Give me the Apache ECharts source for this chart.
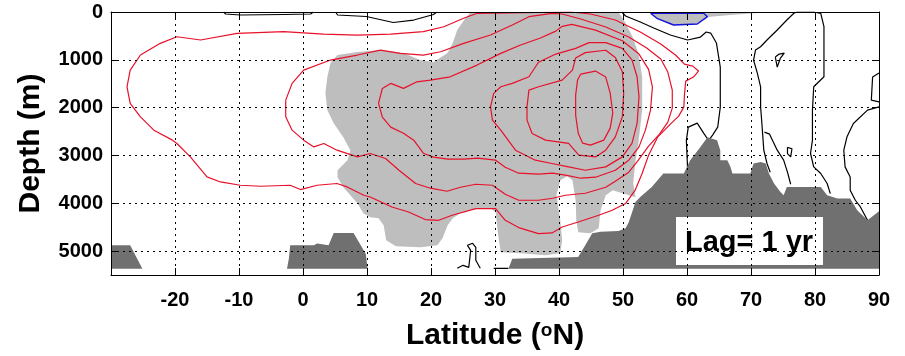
<!DOCTYPE html>
<html>
<head>
<meta charset="utf-8">
<script src="https://cdn.jsdelivr.net/npm/echarts@6/dist/echarts.min.js"></script>
<style>
  html, body { margin: 0; padding: 0; background: #fff; }
  #chart { width: 905px; height: 356px; }
</style>
</head>
<body>
<div id="chart"></div>
<script>
// points are [latitude (deg N), depth (m)]

// red correlation contours, outermost first
const red1 = [[-25.4,900],[-22.3,655],[-19.7,517],[-16,586],[-10.3,446],[-3,412],[3.2,461],[8.5,482],[13.7,461],[18.8,412],[22,308],[25.1,132],[27.2,27],[27.4,0],[41.8,0],[44.9,42],[48.8,168],[52.7,419],[55.9,670],[58.2,900],[59.6,1089],[60.9,1131],[61.8,1235],[61,1361],[59.8,1445],[59.6,1738],[59.5,1989],[58.7,2178],[57.4,2345],[55.4,2618],[54,2994],[53,3371],[51.9,3727],[50.4,4006],[48.3,4146],[46.2,4251],[43,4391],[40.5,4496],[38.9,4621],[36.8,4634],[33.7,4508],[31.6,4356],[30.1,4111],[27,4111],[23.3,4251],[21.2,4356],[19.1,4341],[16.5,4182],[13.9,4077],[10.5,3868],[9.5,3832],[6.9,3658],[5.3,3587],[2.2,3623],[-0.4,3713],[-2,3623],[-6.6,3644],[-9.8,3623],[-12.9,3554],[-15,3449],[-17.6,3030],[-19.7,2750],[-20.4,2680],[-23.3,2471],[-25.4,2192],[-27,1912],[-27.5,1564],[-27,1215],[-25.4,900]];
const red2 = [[-2.7,1843],[-1.7,1493],[0.1,1215],[4.3,1005],[8.5,900],[12.1,796],[15.2,865],[18.8,900],[21.5,831],[25.1,655],[29.3,482],[32.7,272],[35.3,98],[38.9,27],[40.5,42],[43.4,147],[47.3,314],[50.9,524],[53.7,754],[55.9,984],[57,1256],[57.7,1633],[57.7,2010],[57,2303],[55.7,2555],[54,2806],[52.4,3099],[50.9,3350],[48.8,3539],[47.3,3665],[44.1,3790],[41,3832],[39,3895],[36.8,3937],[33.7,3937],[31.6,3811],[29.6,3623],[27,3602],[24.6,3665],[22.5,3748],[19.9,3685],[17.6,3587],[15,3309],[12.9,3064],[10.5,2959],[8.5,3030],[5.3,2890],[3.25,2749],[1.7,2821],[0.1,2680],[-1.7,2471],[-2.7,2192],[-2.7,1843]];
const red3 = [[11.8,1912],[12.4,1598],[13.7,1493],[15.7,1598],[17.8,1460],[19.9,1424],[23,1355],[27.2,1110],[30.9,865],[34,691],[37.1,544],[39.5,400],[40.5,300],[42,260],[45.7,380],[49.9,600],[52.5,880],[54,1200],[54.6,1564],[54.3,2052],[53.5,2471],[52.5,2821],[50.9,3099],[48.8,3309],[45.7,3455],[43.4,3476],[41,3413],[39,3371],[36.8,3392],[33.7,3371],[31.6,3246],[30.1,3099],[27.3,3057],[25.1,3078],[22.6,3078],[20.4,3036],[18.8,2953],[17.3,2680],[15.7,2534],[13.7,2408],[12.4,2199],[11.8,1912]];
const red4 = [[30.9,1564],[29.8,1702],[29.3,1983],[29.6,2261],[30.9,2471],[33.2,2890],[36.3,3099],[38.9,3168],[41.5,3239],[44.1,3309],[47.3,3239],[49.9,3030],[51.4,2749],[52.2,2331],[52.5,1774],[52.2,1355],[51.4,1000],[49.9,760],[47.3,640],[44.7,640],[42.6,760],[39.5,880],[36.8,1050],[35.3,1355],[32.7,1493],[30.9,1564]];
const red5 = [[35,1983],[35.3,1633],[36.8,1564],[40.5,1424],[42.1,1215],[42.6,960],[44.1,850],[47.3,800],[48.8,950],[49.9,1250],[50.1,1702],[49.9,2192],[48.8,2611],[47.3,2890],[45.7,3030],[43.1,2994],[41.5,2749],[37.9,2680],[35.8,2540],[35,2261],[35,1983]];
const red6 = [[43.4,1298],[45.7,1235],[47.3,1361],[48,1696],[48.4,2115],[48,2429],[47,2680],[44.9,2785],[43.7,2743],[43,2534],[42.6,2157],[42.6,1738],[42.9,1424],[43.4,1298]];

// black (zero) contours
const blackTopA = [[-12.4,0],[-12.1,42],[-9.8,63],[-3,52],[1.2,42],[1.6,0]];
const blackTopB = [[5.1,0],[5.4,63],[9.9,94],[14.1,220],[17.3,168],[20.4,52],[20.9,0]];
const blackNorthA = [[49.8,0],[50.4,84],[52.7,209],[54.8,335],[57.4,482],[60.1,586],[62.1,524],[63,419],[63.7,440],[64.6,649],[65.2,1152],[65.2,1989],[64.8,2408],[64,2576],[63.4,2680]];
const blackNorthB = [[60.1,3309],[59.9,2680],[60.2,2408],[61.6,2324],[62.6,2534],[63.2,2650]];
const blackNorthC = [[73,3350],[72.5,3168],[72,2890],[71.7,2331],[71.5,1983],[71.5,1564],[71,1284],[70.4,1005],[70.7,796],[71.5,727],[72.5,586],[74.1,377],[75.6,168],[76.7,27],[77.2,0],[79.8,0],[80.9,27],[81.4,308],[81.4,1355],[79.8,1564],[79.6,2052],[79.6,2680],[79.3,2959],[79.8,3239],[80.9,3378],[81.9,3587],[82.4,3797]];
const blackNorthD = [[72.1,2513],[72.9,2555],[73.5,2722],[74.1,2890],[75.1,3099],[75.7,3350],[76.2,3602]];
const blackLoopA = [[73.8,942],[74.1,1152],[74.6,963],[75.2,859],[74.4,880],[73.8,942]];
const blackLoopB = [[75.7,2830],[76.4,2860],[76.2,3030],[75.7,2960],[75.7,2830]];
const blackEdgeLoop = [[90,1277],[89,1361],[88.8,1843],[90,1878]];
const blackEdge = [[90,1983],[88.2,2052],[86,2331],[85,2611],[84.5,2890],[84.7,3239],[85.5,3449],[85.5,3727],[86.3,3937],[87.1,4077],[88.2,4356]];
const blackDeep = [[24.1,5360],[25,5298],[25.9,5340],[26.2,4984],[25.7,4879],[26.5,4837],[27,4921],[27,5193],[27.7,5360]];
const blackFloor = [[29.8,5360],[32.1,5360]];

// blue (negative) contour
const blueTop = [[54.3,27],[55.3,132],[57.9,272],[61.6,251],[63.2,98],[62.6,27],[54.3,27]];

// significant area (light gray)
const signifMain = [[26.2,0],[49.3,0],[50.4,230],[51.5,524],[52.4,859],[53,1361],[53,2052],[52.4,2743],[51.95,3099],[51.6,3581],[51.95,3874],[49.9,3790],[48.4,3727],[47.3,3832],[46.5,4146],[46.2,4523],[44.9,4628],[43,4607],[42.7,4356],[42.6,3937],[42.1,3518],[41.3,3434],[40.2,3518],[39.6,3832],[40.2,4356],[40.5,4774],[40.2,5047],[37.9,5088],[34,5047],[30.9,5026],[30.5,4670],[30.1,4188],[29.3,4104],[27.7,4104],[26.2,4146],[24.6,4209],[23.4,4314],[22.6,4460],[21.8,4732],[21,4879],[18.4,4921],[14.5,4900],[13,4774],[12.6,4460],[11.8,4314],[10.5,4293],[9.45,4209],[8.5,4000],[6.3,3665],[5.4,3455],[5.4,3309],[6.95,3099],[7.4,2890],[6.3,2618],[4.8,2324],[3.8,2052],[3.5,1696],[3.8,1361],[4.3,1068],[5.4,900],[8.5,838],[12.1,796],[15.7,859],[18.3,1005],[20.4,1047],[22.6,859],[23.4,649],[24.1,377],[25.4,126]];
const signifTop = [[54.3,0],[55.2,126],[57.8,272],[61.6,251],[63.2,105],[66.8,63],[71,21],[71,0]];

// bottom topography (dark gray)
const bathyLeft = [[-30,4879],[-27,4879],[-25.1,5367],[-30,5367]];
const bathyMid = [[-2.2,5151],[-2,4879],[1.7,4879],[2.2,4840],[4,4879],[4.8,4621],[7.9,4621],[9.8,5053],[10.1,5367],[-2.5,5367]];
const bathyRight = [[32.1,5367],[32.7,5158],[43,5124],[44.1,4879],[45.2,4628],[46.5,4596],[49.3,4580],[50.4,4523],[50.9,4397],[51.95,3972],[52.7,3868],[54.5,3658],[56.3,3378],[59.5,3378],[60.5,3099],[62.1,2821],[63.2,2618],[64.7,2680],[65.2,2890],[65.2,3099],[66.3,3099],[66.8,3239],[67.1,3378],[69.9,3378],[70.4,3168],[71.5,3135],[72.3,3168],[72.8,3378],[73.6,3587],[74.6,3763],[75.1,3832],[75.6,3658],[80.9,3658],[81.9,3832],[83.5,3901],[85.5,3901],[86.6,4146],[88.2,4356],[89.2,4251],[90,4167],[90,5367]];

const FONT = '"Liberation Sans", Arial, sans-serif';
const RED = '#e8102a';
const LIGHT = '#bebebe';
const DARK = '#707070';

// filled region drawn once from all of its points
function areaSeries(points, color, z) {
  return {
    type: 'custom',
    data: points,
    z: z,
    silent: true,
    renderItem: function (params, api) {
      if (params.dataIndex !== 0) return null;
      return {
        type: 'polygon',
        shape: { points: points.map(function (p) { return api.coord(p); }) },
        style: { fill: color }
      };
    }
  };
}

function contourSeries(points, color, width) {
  return {
    type: 'line',
    data: points,
    symbol: 'none',
    z: 2,
    silent: true,
    lineStyle: { color: color, width: width }
  };
}

const chart = echarts.init(document.getElementById('chart'));

const gridDots = { show: true, lineStyle: { color: '#000', width: 1, type: [2, 4] } };
const frameLine = { show: true, onZero: false, lineStyle: { color: '#000', width: 1 } };
const innerTick = { show: true, inside: true, length: 7, lineStyle: { color: '#000' } };

chart.setOption({
  animation: false,
  backgroundColor: '#fff',
  grid: { left: 111, right: 26, top: 12, bottom: 81 },
  xAxis: [{
    type: 'value', min: -30, max: 90, interval: 10, position: 'bottom', z: 5,
    axisLine: frameLine, axisTick: innerTick, splitLine: gridDots,
    axisLabel: {
      color: '#000', fontSize: 20, fontWeight: 'bold', fontFamily: FONT, margin: 15,
      formatter: function (v) { return v === -30 ? '' : String(v); }
    },
    name: 'Latitude ({s|o}N)', nameLocation: 'middle', nameGap: 46,
    nameTextStyle: {
      color: '#000', fontSize: 30, fontWeight: 'bold', fontFamily: FONT,
      rich: { s: { fontSize: 19, fontWeight: 'bold', fontFamily: FONT, color: '#000', verticalAlign: 'top' } }
    }
  }, {
    type: 'value', min: -30, max: 90, interval: 10, position: 'top', z: 5,
    axisLine: frameLine, axisTick: innerTick, axisLabel: { show: false }, splitLine: { show: false }
  }],
  yAxis: [{
    type: 'value', min: 0, max: 5500, interval: 1000, inverse: true, position: 'left', z: 5,
    axisLine: frameLine, axisTick: innerTick, splitLine: gridDots,
    axisLabel: {
      color: '#000', fontSize: 20, fontWeight: 'bold', fontFamily: FONT, margin: 8,
      formatter: function (v) { return v % 1000 === 0 ? String(v) : ''; }
    },
    name: 'Depth (m)', nameLocation: 'middle', nameRotate: 90, nameGap: 65,
    nameTextStyle: { color: '#000', fontSize: 30, fontWeight: 'bold', fontFamily: FONT }
  }, {
    type: 'value', min: 0, max: 5500, interval: 1000, inverse: true, position: 'right', z: 5,
    axisLine: frameLine, axisTick: innerTick, axisLabel: { show: false }, splitLine: { show: false }
  }],
  graphic: [{
    type: 'group', left: 676, top: 217, z: 4,
    children: [
      { type: 'rect', z: 4, shape: { x: 0, y: 0, width: 147, height: 48 }, style: { fill: '#fff' } },
      { type: 'text', z: 4, x: 73, y: 26,
        style: { text: 'Lag= 1 yr', fill: '#000', font: 'bold 29px ' + FONT,
                 textAlign: 'center', textVerticalAlign: 'middle', align: 'center', verticalAlign: 'middle' } }
    ]
  }],
  series: [
    areaSeries(signifMain, LIGHT, 1),
    areaSeries(signifTop, LIGHT, 1),
    contourSeries(red1, RED, 1.2),
    contourSeries(red2, RED, 1.2),
    contourSeries(red3, RED, 1.2),
    contourSeries(red4, RED, 1.2),
    contourSeries(red5, RED, 1.2),
    contourSeries(red6, RED, 1.2),
    contourSeries(blackTopA, '#000', 1.2),
    contourSeries(blackTopB, '#000', 1.2),
    contourSeries(blackNorthA, '#000', 1.2),
    contourSeries(blackNorthB, '#000', 1.2),
    contourSeries(blackNorthC, '#000', 1.2),
    contourSeries(blackNorthD, '#000', 1.2),
    contourSeries(blackLoopA, '#000', 1.2),
    contourSeries(blackLoopB, '#000', 1.2),
    contourSeries(blackEdgeLoop, '#000', 1.2),
    contourSeries(blackEdge, '#000', 1.2),
    contourSeries(blackDeep, '#000', 1.2),
    contourSeries(blackFloor, '#000', 1.2),
    contourSeries(blueTop, '#1010e0', 1.4),
    areaSeries(bathyLeft, DARK, 3),
    areaSeries(bathyMid, DARK, 3),
    areaSeries(bathyRight, DARK, 3)
  ]
});
</script>
</body>
</html>
